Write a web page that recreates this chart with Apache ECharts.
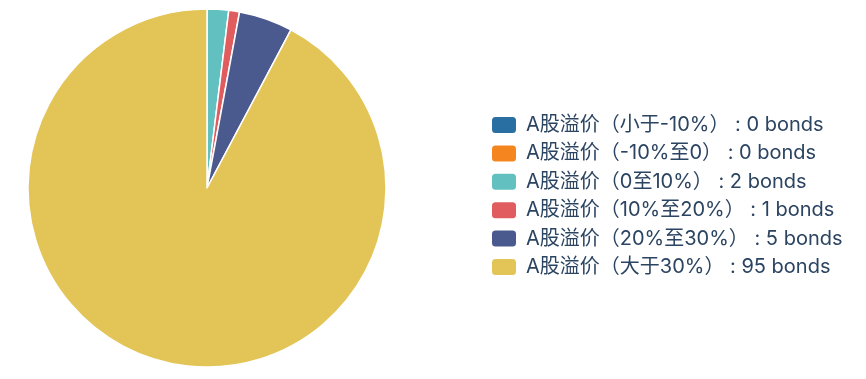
<!DOCTYPE html>
<html><head><meta charset="utf-8">
<script src="https://cdn.jsdelivr.net/npm/echarts@6/dist/echarts.min.js"></script>
<style>html,body{margin:0;padding:0;background:#fff}#c{width:866px;height:379px}</style>
</head><body><div id="c"></div>
<script>
const categories = ['A股溢价（小于-10%）','A股溢价（-10%至0）','A股溢价（0至10%）','A股溢价（10%至20%）','A股溢价（20%至30%）','A股溢价（大于30%）'];
const values = [0, 0, 2, 1, 5, 95];
const colors = ['#2a6fa1','#f5861f','#62c1c0','#e05c5e','#4b5a8e','#e3c557'];
const chart = echarts.init(document.getElementById('c'));
chart.setOption({
  animation: false,
  color: colors,
  legend: {
    orient: 'vertical', left: 485, top: 110,
    itemWidth: 26, itemHeight: 18, itemGap: 8.4,
    icon: 'roundRect',
    textStyle: { fontSize: 20, lineHeight: 20, color: '#2b4461', fontFamily: 'Inter, "Noto Sans CJK SC", sans-serif', padding: [0, 0, 0, 4] },
    formatter: function(name){ const i = categories.indexOf(name); return name + ' : ' + values[i] + ' bonds'; },
    data: categories
  },
  series: [{
    type: 'pie', center: [207, 188], radius: 179, startAngle: 90, clockwise: true,
    label: { show: false }, labelLine: { show: false },
    itemStyle: { borderColor: '#fff', borderWidth: 1.5 },
    data: categories.map((c, i) => ({ name: c, value: values[i] }))
  }]
});
</script></body></html>
